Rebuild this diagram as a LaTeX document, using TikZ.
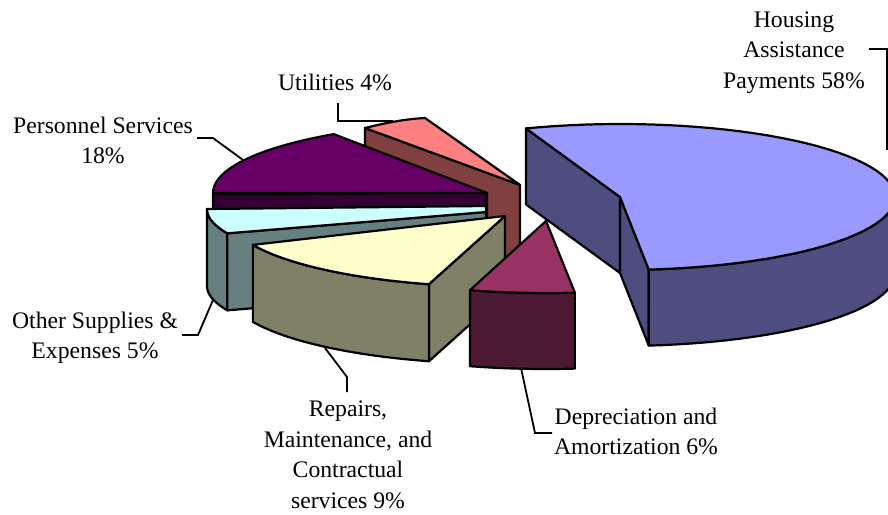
\documentclass[tikz,border=0pt]{standalone}
\usepackage{fontspec}
\setmainfont{Liberation Serif}
\usetikzlibrary{positioning,calc}
\definecolor{hapTop}{HTML}{9999FF}
\definecolor{hapSide}{HTML}{4D4D80}
\definecolor{utilTop}{HTML}{FF8080}
\definecolor{utilSide}{HTML}{804040}
\definecolor{persTop}{HTML}{660066}
\definecolor{persSide}{HTML}{330033}
\definecolor{suppTop}{HTML}{CCFFFF}
\definecolor{suppSide}{HTML}{668080}
\definecolor{repTop}{HTML}{FFFFCC}
\definecolor{repSide}{HTML}{808066}
\definecolor{depTop}{HTML}{993366}
\definecolor{depSide}{HTML}{4D1A33}

\begin{document}
\begin{tikzpicture}[x=1pt,y=-1pt,
  face/.style={draw=black,line width=2.2pt,line join=round},
  leader/.style={draw=black,line width=1.8pt},
  lbl/.style={align=center,inner sep=0pt,font=\fontsize{23.7}{30.5}\selectfont}]
\useasboundingbox (0,0) rectangle (888,514);

% utilities (back slice)
\filldraw[face,fill=utilSide] (365,128) -- (520,185) -- (520,262) -- (365,205) -- cycle;
\filldraw[face,fill=utilTop] (365,128) .. controls (385,123) and (405,119) .. (425,118) -- (520,185) -- cycle;

% housing assistance
\coordinate (hapF) at ({620+275*cos(84)},{197+73*sin(84)});
\coordinate (hapB) at ({620+275*cos(-110)},{197+73*sin(-110)});
\filldraw[face,fill=hapSide] (hapB) -- (620,197) -- (620,273) -- ($(hapB)+(0,76)$) -- cycle;
\filldraw[face,fill=hapSide] (620,197) -- (hapF) -- ($(hapF)+(0,76)$) -- (620,273) -- cycle;
\filldraw[face,fill=hapSide] plot[domain=84:0,samples=30] ({620+275*cos(\x)},{197+73*sin(\x)})
  -- plot[domain=0:84,samples=30] ({620+275*cos(\x)},{273+73*sin(\x)}) -- cycle;
\filldraw[face,fill=hapTop] (620,197) -- plot[domain=-110:84,samples=60] ({620+275*cos(\x)},{197+73*sin(\x)}) -- cycle;

% personnel services
\filldraw[face,fill=persSide] (213,194) -- (487,193) -- (487,270) -- (213,271) -- cycle;
\filldraw[face,fill=persTop] (487,193) -- plot[domain=236:180,samples=30] ({487+274*cos(\x)},{193+71*sin(\x)}) -- cycle;

% other supplies
\coordinate (suppF) at ({486+279*cos(158)},{209+65*sin(158)});
\filldraw[face,fill=suppSide] plot[domain=158:180,samples=20] ({486+279*cos(\x)},{209+65*sin(\x)})
  -- plot[domain=180:158,samples=20] ({486+279*cos(\x)},{286+65*sin(\x)}) -- cycle;
\filldraw[face,fill=suppSide] (suppF) -- (486,212) -- (486,289) -- ($(suppF)+(0,77)$) -- cycle;
\filldraw[face,fill=suppTop] (486,206) -- (486,212) -- plot[domain=158:180,samples=20] ({486+279*cos(\x)},{209+65*sin(\x)}) -- cycle;

% repairs and maintenance
\coordinate (repF) at ({505+276*cos(106)},{216+71*sin(106)});
\filldraw[face,fill=repSide] (repF) -- (505,216) -- (505,293) -- ($(repF)+(0,77)$) -- cycle;
\filldraw[face,fill=repSide] plot[domain=106:156,samples=30] ({505+276*cos(\x)},{216+71*sin(\x)})
  -- plot[domain=156:106,samples=30] ({505+276*cos(\x)},{293+71*sin(\x)}) -- cycle;
\filldraw[face,fill=repTop] (505,216) -- plot[domain=106:156,samples=30] ({505+276*cos(\x)},{216+71*sin(\x)}) -- cycle;

% depreciation
\filldraw[face,fill=depSide] plot[domain=84:106,samples=20] ({546+276*cos(\x)},{221+72*sin(\x)})
  -- plot[domain=106:84,samples=20] ({546+276*cos(\x)},{297+72*sin(\x)}) -- cycle;
\filldraw[face,fill=depTop] (546,221) -- plot[domain=84:106,samples=20] ({546+276*cos(\x)},{221+72*sin(\x)}) -- cycle;

% labels
\node[lbl] (hap) at (794,52.5) {Housing\\Assistance\\Payments 58\%};
\node[lbl] (util) at (335,82) {Utilities 4\%};
\node[lbl] (pers) at (103,140.5) {Personnel Services\\18\%};
\node[lbl] (supp) at (95,338) {Other Supplies \&\\Expenses 5\%};
\node[lbl] (rep) at (348,455) {Repairs,\\Maintenance, and\\Contractual\\services 9\%};
\node[lbl] (dep) at (636,431.5) {Depreciation and\\Amortization 6\%};

% leaders
\coordinate (hap-a) at (869,49);  \coordinate (hap-b) at (887,49);  \coordinate (hap-c) at (887,150);
\coordinate (util-a) at (338,103); \coordinate (util-b) at (338,121); \coordinate (util-c) at (393,121);
\coordinate (pers-a) at (197,138); \coordinate (pers-b) at (213,138); \coordinate (pers-c) at (243,160);
\coordinate (supp-a) at (182,335); \coordinate (supp-b) at (198,335); \coordinate (supp-c) at (213,300);
\coordinate (rep-a) at (347,392);  \coordinate (rep-b) at (347,377);  \coordinate (rep-c) at (325,348);
\coordinate (dep-a) at (552,433);  \coordinate (dep-b) at (535,433);  \coordinate (dep-c) at (521,368);
\draw[leader] (hap-a) -- (hap-b) -- (hap-c);
\draw[leader] (util-a) -- (util-b) -- (util-c);
\draw[leader] (pers-a) -- (pers-b) -- (pers-c);
\draw[leader] (supp-a) -- (supp-b) -- (supp-c);
\draw[leader] (rep-a) -- (rep-b) -- (rep-c);
\draw[leader] (dep-a) -- (dep-b) -- (dep-c);
\end{tikzpicture}
\end{document}
